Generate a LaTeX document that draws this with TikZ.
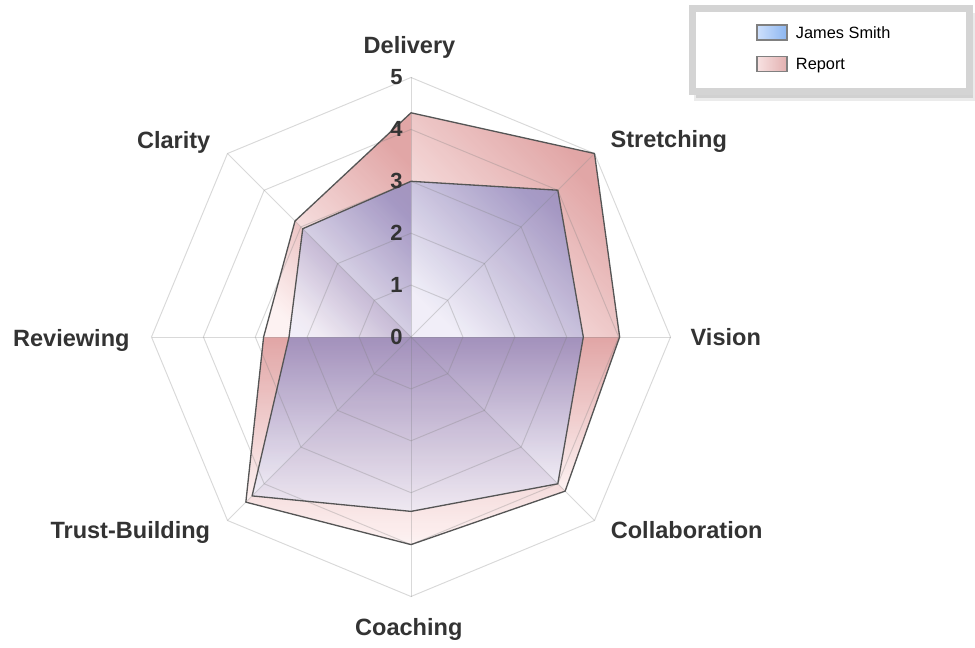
\documentclass[tikz,border=0pt]{standalone}
\usepackage{fontspec}
\setmainfont{Liberation Sans}
\usetikzlibrary{positioning}
\definecolor{labelgray}{RGB}{51,51,51}
\definecolor{edgegray}{RGB}{85,85,85}
\definecolor{legendgray}{RGB}{212,212,212}
\definecolor{reportlight}{RGB}{253,240,240}
\definecolor{reportdark}{RGB}{220,150,150}
\definecolor{jameslight}{RGB}{232,236,252}
\definecolor{jamesdark}{RGB}{112,128,206}
\definecolor{jamesleft}{RGB}{206,224,252}
\definecolor{jamesright}{RGB}{140,182,240}
\definecolor{reportleft}{RGB}{248,226,226}
\definecolor{reportright}{RGB}{226,176,176}
\begin{document}
\begin{tikzpicture}[x=0.02cm,y=0.02cm]
	\tikzset{axislabel/.style={anchor=base,inner sep=0pt,text=labelgray,font=\fontsize{13.4}{16}\selectfont\bfseries},
		ticklabel/.style={anchor=east,inner sep=0pt,text=labelgray,font=\fontsize{12.5}{14}\selectfont\bfseries},
		gridline/.style={draw=black!50,draw opacity=0.3,line width=0.55pt},
		outline/.style={draw=edgegray,line width=0.75pt,line join=round},
		swatch/.style={draw=gray,line width=0.7pt,minimum width=0.6cm,minimum height=0.3cm,inner sep=0pt},
		legendtext/.style={font=\fontsize{9.3}{11}\selectfont,inner sep=0pt,text depth=0pt,text=black}};
	\useasboundingbox (0,0) rectangle (975,647);
	\coordinate (O) at (411,310);
	\begin{scope}[shift={(O)}]
		\foreach \a/\u/\b/\v/\s in {90/4.32/45/5/-45, 45/5/0/4.02/-45, 0/4.02/-45/4.2/0, -45/4.2/-90/4/0, -90/4/-135/4.5/0, -135/4.5/180/2.84/0, 180/2.84/135/3.16/-45, 135/3.16/90/4.32/-45}
			\shade[bottom color=reportlight,top color=reportdark,shading angle=\s,fill opacity=0.85] (0,0) -- (\a:\u*51.9) -- (\b:\v*51.9) -- cycle;
		\foreach \a/\u/\b/\v/\s in {90/3/45/4/-45, 45/4/0/3.32/-45, 0/3.32/-45/4/0, -45/4/-90/3.36/0, -90/3.36/-135/4.33/0, -135/4.33/180/2.35/0, 180/2.35/135/2.95/-45, 135/2.95/90/3/-45}
			\shade[bottom color=jameslight,top color=jamesdark,shading angle=\s,fill opacity=0.55] (0,0) -- (\a:\u*51.9) -- (\b:\v*51.9) -- cycle;
		\foreach \r in {1,...,5}
			\draw[gridline] (0:\r*51.9) \foreach \a in {45,90,...,315} {-- (\a:\r*51.9)} -- cycle;
		\foreach \a in {0,45,...,315}
			\draw[gridline] (0,0) -- (\a:5*51.9);
		\draw[outline] (90:4.32*51.9) \foreach \a/\u in {45/5,0/4.02,-45/4.2,-90/4,-135/4.5,180/2.84,135/3.16} {-- (\a:\u*51.9)} -- cycle;
		\draw[outline] (90:3*51.9) \foreach \a/\u in {45/4,0/3.32,-45/4,-90/3.36,-135/4.33,180/2.35,135/2.95} {-- (\a:\u*51.9)} -- cycle;
		\foreach \n in {0,...,5}
			\node[ticklabel] (tick\n) at (-8,\n*51.9) {\n};
	\end{scope}
	\node[axislabel] (delivery) at (409.5,593.7) {Delivery};
	\node[axislabel] (stretching) at (668.8,499.7) {Stretching};
	\node[axislabel] (vision) at (725.8,302) {Vision};
	\node[axislabel] (collaboration) at (686.7,108.7) {Collaboration};
	\node[axislabel] (coaching) at (408.8,12) {Coaching};
	\node[axislabel] (trust) at (130.3,108.7) {Trust-Building};
	\node[axislabel] (reviewing) at (71.3,300.3) {Reviewing};
	\node[axislabel] (clarity) at (173.7,498.7) {Clarity};
	\fill[black!8] (694,546) rectangle (976,634);
	\fill[black!18] (696,549) rectangle (973,632);
	\draw[draw=legendgray,fill=white,line width=0.14cm] (692,555) rectangle (969,638.5);
	\node[swatch,left color=jamesleft,right color=jamesright] (jamesbox) at (772,614.5) {};
	\node[swatch,left color=reportleft,right color=reportright] (reportbox) at (772,582.8) {};
	\node[legendtext,right=0.16cm of jamesbox] (jamestext) {James Smith};
	\node[legendtext,right=0.16cm of reportbox] (reporttext) {Report};
\end{tikzpicture}
\end{document}
